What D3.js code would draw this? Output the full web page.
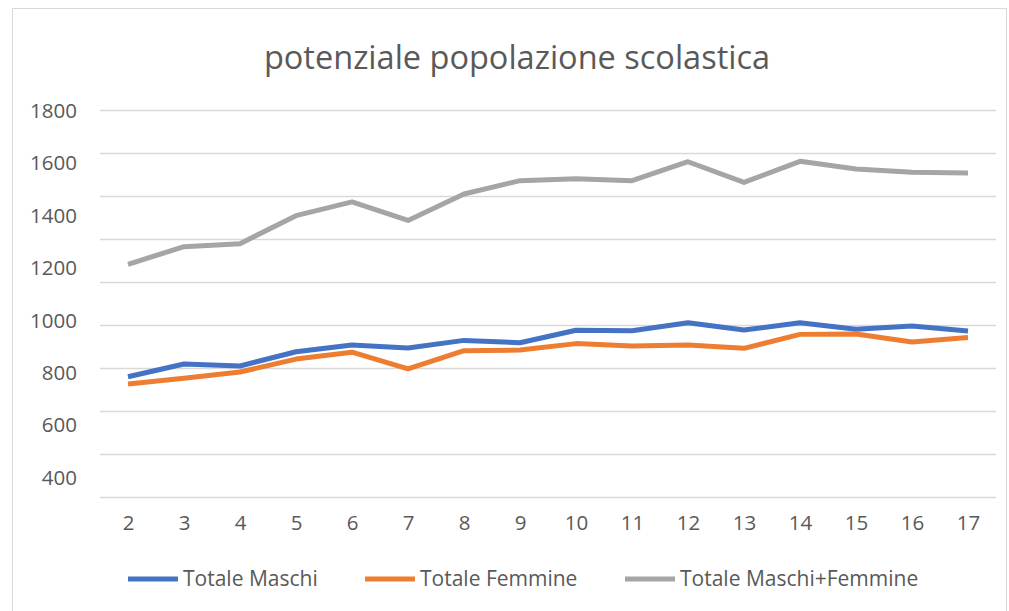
<!DOCTYPE html>
<html>
<head>
<meta charset="utf-8">
<script src="https://cdn.jsdelivr.net/npm/d3@7"></script>
<style>
  body { margin: 0; background: #fff; }
  text { font-family: "Open Sans", sans-serif; fill: #595959; }
</style>
</head>
<body>
<div id="vis"></div>
<script>
// data
let categories = [2, 3, 4, 5, 6, 7, 8, 9, 10, 11, 12, 13, 14, 15, 16, 17];
let maschi   = [558, 617, 608, 674, 706, 692, 727, 716, 774, 772, 809, 775, 809, 779, 794, 771];
let femmine  = [524, 551, 580, 640, 672, 595, 679, 682, 712, 701, 706, 690, 755, 757, 720, 740];
let totale   = [1081, 1163, 1177, 1307, 1371, 1285, 1408, 1470, 1479, 1470, 1558, 1462, 1560, 1524, 1509, 1506];
let gridValues = [0, 200, 400, 600, 800, 1000, 1200, 1400, 1600, 1800];
let yLabels  = [400, 600, 800, 1000, 1200, 1400, 1600, 1800];
let seriesNames = ['Totale Maschi', 'Totale Femmine', 'Totale Maschi+Femmine'];
let colors = ['#4472C4', '#ED7D31', '#A5A5A5'];

let W = 1009, H = 611;
let plot = { left: 100, right: 996, top: 109.7, bottom: 496.7 };

let svg = d3.select('#vis')
  .append('svg')
    .attr('width', W)
    .attr('height', H);

// chart frame
svg.append('rect')
  .attr('x', 12.5).attr('y', 8.5)
  .attr('width', 994).attr('height', 610)
  .attr('fill', 'none')
  .attr('stroke', '#d9d9d9');

svg.append('text')
  .attr('x', 517).attr('y', 69)
  .attr('text-anchor', 'middle')
  .style('font-size', '32.5px')
  .text('potenziale popolazione scolastica');

let x = d3.scalePoint()
  .domain(categories)
  .range([plot.left, plot.right])
  .padding(0.5);

let y = d3.scaleLinear()
  .domain([0, 1800])
  .range([plot.bottom, plot.top]);

// the value labels in the picture sit on their own spacing
let yLab = d3.scaleLinear()
  .domain([400, 1800])
  .range([477.7, 111]);

// gridlines
svg.append('g')
  .selectAll('line')
  .data(gridValues)
  .join('line')
    .attr('x1', plot.left).attr('x2', plot.right)
    .attr('y1', d => Math.round(y(d)) + 0.5)
    .attr('y2', d => Math.round(y(d)) + 0.5)
    .attr('stroke', '#d9d9d9')
    .attr('stroke-width', 1.3);

let yAxis = svg.append('g')
  .attr('transform', `translate(${plot.left},0)`)
  .call(d3.axisLeft(yLab).tickValues(yLabels).tickFormat(d3.format('d')).tickSize(0).tickPadding(23));
yAxis.select('.domain').remove();
yAxis.selectAll('text').style('font-size', '20.5px').attr('fill', '#595959');

let xAxis = svg.append('g')
  .attr('transform', `translate(0,${plot.bottom})`)
  .call(d3.axisBottom(x).tickSize(0).tickPadding(19));
xAxis.select('.domain').remove();
xAxis.selectAll('text').style('font-size', '20.5px').attr('fill', '#595959');

let line = d3.line()
  .x((d, i) => x(categories[i]))
  .y(d => y(d));

[maschi, femmine, totale].forEach((s, k) => {
  svg.append('path')
    .datum(s)
    .attr('d', line)
    .attr('fill', 'none')
    .attr('stroke', colors[k])
    .attr('stroke-width', 5)
    .attr('stroke-linejoin', 'round');
});

// legend
let legendX = [128, 365, 625];
let legend = svg.append('g')
  .selectAll('g')
  .data(seriesNames)
  .join('g')
    .attr('transform', (d, i) => `translate(${legendX[i]},579)`);
legend.append('line')
  .attr('x1', 0).attr('x2', 50)
  .attr('stroke', (d, i) => colors[i])
  .attr('stroke-width', 5);
legend.append('text')
  .attr('x', 55).attr('dy', '0.35em')
  .style('font-size', '21px')
  .text(d => d);
</script>
</body>
</html>
